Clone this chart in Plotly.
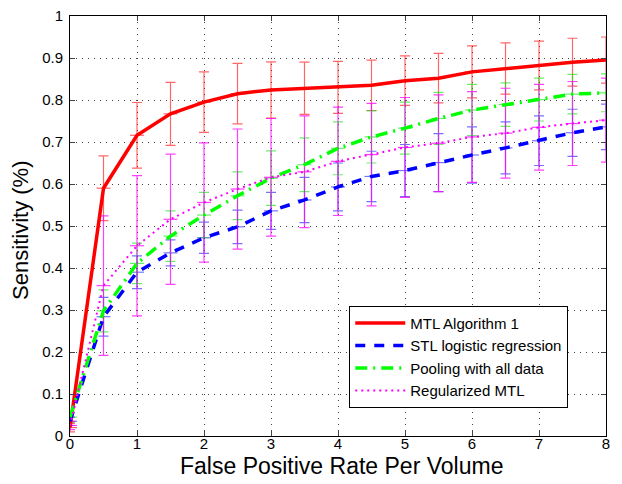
import plotly.graph_objects as go

fppv = [0, 0.5, 1, 1.5, 2, 2.5, 3, 3.5, 4, 4.5, 5, 5.5, 6, 6.5, 7, 7.5, 8]

mtl_mean = [0.02, 0.59, 0.716, 0.767, 0.795, 0.815, 0.824, 0.828, 0.830, 0.835, 0.846, 0.852, 0.867, 0.875, 0.882, 0.890, 0.895]
mtl_err = [0.01, 0.077, 0.078, 0.075, 0.072, 0.072, 0.067, 0.062, 0.062, 0.060, 0.059, 0.059, 0.062, 0.061, 0.058, 0.057, 0.055]

stl_mean = [0.035, 0.284, 0.390, 0.436, 0.472, 0.498, 0.536, 0.562, 0.593, 0.618, 0.632, 0.651, 0.669, 0.686, 0.703, 0.722, 0.736]
stl_err = [0.01, 0.046, 0.039, 0.031, 0.037, 0.040, 0.044, 0.054, 0.057, 0.060, 0.062, 0.069, 0.067, 0.062, 0.059, 0.056, 0.054]

pool_mean = [0.045, 0.298, 0.411, 0.476, 0.526, 0.572, 0.614, 0.646, 0.685, 0.712, 0.733, 0.756, 0.776, 0.789, 0.801, 0.814, 0.817]
pool_err = [0.012, 0.050, 0.048, 0.060, 0.054, 0.057, 0.065, 0.064, 0.063, 0.062, 0.062, 0.062, 0.061, 0.052, 0.051, 0.047, 0.045]

reg_mean = [0.025, 0.358, 0.453, 0.516, 0.556, 0.588, 0.616, 0.629, 0.654, 0.670, 0.687, 0.697, 0.712, 0.721, 0.735, 0.744, 0.752]
reg_err = [0.01, 0.166, 0.167, 0.155, 0.142, 0.143, 0.140, 0.133, 0.129, 0.122, 0.119, 0.115, 0.108, 0.107, 0.102, 0.100, 0.100]

series_names = ["MTL Algorithm 1", "STL logistic regression", "Pooling with all data", "Regularized MTL"]
y_ticks = [0, 0.1, 0.2, 0.3, 0.4, 0.5, 0.6, 0.7, 0.8, 0.9, 1]
y_tick_text = ["0", "0.1", "0.2", "0.3", "0.4", "0.5", "0.6", "0.7", "0.8", "0.9", "1"]
x_ticks = [0, 1, 2, 3, 4, 5, 6, 7, 8]
x_title = "False Positive Rate Per Volume"
y_title = "Sensitivity (%)"

series = [
    (series_names[0], mtl_mean, mtl_err, "#ff0000", "rgba(255,0,0,0.6)", "solid", 3.5),
    (series_names[1], stl_mean, stl_err, "#0000ff", "rgba(0,0,255,0.55)", "10px,9px", 3.5),
    (series_names[2], pool_mean, pool_err, "#00ff00", "rgba(0,230,0,0.6)", "12px,6px,2px,6px", 3.5),
    (series_names[3], reg_mean, reg_err, "#ff00ff", "rgba(255,0,255,0.75)", "2px,4px", 2),
]

fig = go.Figure()

# error bars first
for name, m, e, col, ecol, dash, w in series:
    fig.add_trace(go.Scatter(
        x=fppv, y=m, mode="markers", showlegend=False, hoverinfo="skip",
        marker=dict(symbol="line-ew", size=10, color=ecol, line=dict(color=ecol, width=1.2)),
        error_y=dict(type="data", array=e, visible=True, color=ecol, thickness=1.2, width=5),
    ))

# lines on top
for rank, (name, m, e, col, ecol, dash, w) in enumerate(series):
    fig.add_trace(go.Scatter(
        x=fppv, y=m, mode="lines", name=name, legendrank=rank + 1,
        line=dict(color=col, width=w, dash=dash),
    ))

font_family = "Liberation Sans, Arial, Helvetica, sans-serif"

fig.update_layout(
    width=622, height=484,
    margin=dict(l=61.5, r=24, t=8, b=56, autoexpand=False),
    paper_bgcolor="white", plot_bgcolor="white",
    font=dict(family=font_family, color="black", size=15),
    showlegend=True,
    legend=dict(
        x=0.521, y=0.31, xanchor="left", yanchor="top",
        bgcolor="white", bordercolor="black", borderwidth=1,
        font=dict(size=15, family=font_family), itemwidth=50,
        tracegroupgap=0,
    ),
    xaxis=dict(
        range=[0, 8], tickvals=x_ticks, ticks="inside", ticklen=5,
        showline=True, linecolor="black", linewidth=1, mirror="ticks",
        showgrid=True, gridcolor="#444", griddash="1px,5px", gridwidth=1,
        zeroline=False, tickfont=dict(size=15), automargin=False,
        ticklabelstandoff=-6, ticklabeloverflow="allow",
    ),
    yaxis=dict(
        range=[0, 1], tickvals=y_ticks, ticktext=y_tick_text, ticks="inside", ticklen=5,
        showline=True, linecolor="black", linewidth=1, mirror="ticks",
        showgrid=True, gridcolor="#444", griddash="1px,5px", gridwidth=1,
        zeroline=False, tickfont=dict(size=15), automargin=False,
        ticklabelstandoff=3, ticklabeloverflow="allow",
    ),
    annotations=[
        dict(text=x_title, xref="paper", yref="paper", x=0.506, y=-0.071,
             xanchor="center", yanchor="middle", showarrow=False, font=dict(size=23)),
        dict(text=y_title, xref="paper", yref="paper", x=-0.092, y=0.49,
             xanchor="center", yanchor="middle", showarrow=False, textangle=-90,
             font=dict(size=22)),
    ],
)

fig.write_html("out.html")
